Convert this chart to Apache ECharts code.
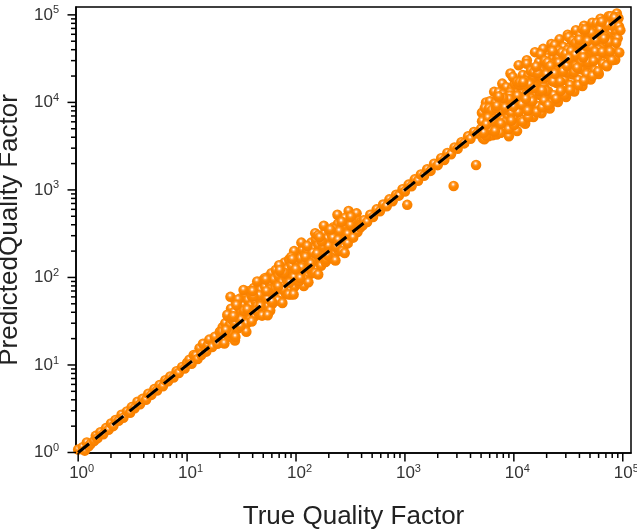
<!DOCTYPE html>
<html><head><meta charset="utf-8">
<script src="https://cdn.jsdelivr.net/npm/echarts@6/dist/echarts.min.js"></script>
<style>html,body{margin:0;padding:0;background:#fff}#c{width:637px;height:529px}</style>
</head><body><div id="c"></div>
<script>
// ---- data: true vs predicted quality factor ----
// low range (1 - 20)
const trueLow = [0.98, 1.0, 1.05, 1.1, 1.15, 1.2, 1.25, 1.3, 1.4, 1.45, 1.5, 1.6, 1.7, 1.8, 1.9, 2.0, 2.1, 2.2, 2.35, 2.5, 2.6, 2.8, 3.0, 3.1, 3.3, 3.5, 3.7, 3.9, 4.2, 4.4, 4.7, 5.0, 5.3, 5.6, 6.0, 6.3, 6.7, 7.0, 7.5, 8.0, 8.4, 9.0, 9.5, 10.0, 10.5, 11, 11.5, 12, 12.5, 13, 13.5, 14, 15, 15.5, 16, 17, 18, 19, 20];
const predLow = [0.97, 1.08, 0.98, 1.15, 1.05, 1.3, 1.18, 1.25, 1.35, 1.55, 1.45, 1.7, 1.62, 1.9, 1.82, 2.15, 2.0, 2.35, 2.3, 2.7, 2.5, 2.95, 2.85, 3.3, 3.2, 3.8, 3.55, 4.1, 4.0, 4.7, 4.55, 5.3, 5.1, 5.9, 5.7, 6.7, 6.5, 7.4, 7.2, 8.5, 8.1, 9.5, 9.1, 10.6, 11.5, 10.3, 13, 12.8, 11.7, 15.5, 13, 17.5, 14.2, 16.8, 19.5, 16, 21, 17.5, 24];
// mid range (20 - 410)
const trueMid = [
  20.5, 21.2, 21.8, 22.4, 23.1, 23.6, 24.2, 24.8, 25.3, 25.9,
  26.4, 27.0, 27.5, 28.1, 28.7, 29.2, 29.8, 30.5, 31.1, 31.6,
  32.2, 32.9, 33.5, 34.1, 34.8, 35.4, 36.1, 36.8, 37.4, 38.0,
  38.7, 39.5, 40.2, 41.0, 41.8, 42.5, 43.3, 44.1, 45.0, 45.8,
  46.6, 47.5, 48.4, 49.3, 50.2, 51.2, 52.1, 53.1, 54.1, 55.1,
  56.2, 57.2, 58.3, 59.4, 60.5, 61.7, 62.8, 64.0, 65.2, 66.4,
  67.7, 69.0, 70.3, 71.6, 73.0, 74.4, 75.8, 77.2, 78.7, 80.2,
  81.7, 83.2, 84.8, 86.4, 88.0, 89.7, 91.4, 93.1, 94.9, 96.7,
  98.5, 100.4, 102.3, 104.2, 106.2, 108.2, 110.3, 112.4, 114.5, 116.7,
  118.9, 121.2, 123.5, 125.8, 128.2, 130.6, 133.1, 135.6, 138.2, 140.8,
  143.5, 146.2, 149.0, 151.8, 154.7, 157.6, 160.6, 163.6, 166.7, 169.9,
  173.1, 176.4, 179.7, 183.1, 186.6, 190.1, 193.7, 197.4, 201.1, 204.9,
  208.8, 212.8, 216.8, 220.9, 225.1, 229.4, 233.7, 238.2, 242.7, 247.3,
  252.0, 256.8, 261.6, 266.6, 271.6, 276.8, 282.0, 287.4, 292.8, 298.4,
  304.0, 309.8, 315.7, 321.6, 327.7, 333.9, 340.3, 346.7, 353.3, 360.0,
  366.8, 373.8, 380.9, 388.1, 395.5, 403.0, 410.6, 25.0, 33.0, 27.5,
  44, 58, 70, 96, 112, 150, 118, 90, 180, 240,
  20.8, 22.0, 23.4, 24.5, 26.1, 27.8, 29.5, 31.3, 33.2, 35.1,
  37.1, 39.2, 41.4, 43.7, 46.2, 48.8, 51.6, 54.6, 57.8, 61.1,
  64.6, 68.3, 72.2, 76.4, 80.8, 85.4, 90.3, 95.5, 101, 107,
  113, 119.5, 126.5, 134, 142, 150, 159, 168, 178, 188,
  199, 211, 223, 236, 250, 265, 281, 298, 316, 335,
  35, 55, 75, 95, 130, 160, 230, 280,
  22.7, 26.7, 30.9, 35.8, 40.6, 47.1, 53.6, 60.1, 68.6, 77.9,
  87.2, 99.4, 109.3, 122.4, 136.9, 155.6, 172, 195, 218, 244,
  28.4, 39.9, 52.7, 71, 92.5, 127, 165, 207, 262, 318
];
const predMid = [
  22, 27, 19, 30, 25, 36, 21, 29, 44, 33,
  24, 40, 30, 52, 35, 26, 46, 33, 58, 40,
  28, 49, 37, 63, 30, 44, 55, 39, 70, 33,
  48, 60, 42, 76, 36, 53, 66, 47, 85, 38,
  57, 72, 50, 92, 43, 62, 78, 55, 100, 47,
  68, 86, 60, 112, 50, 74, 95, 66, 122, 55,
  80, 104, 72, 135, 60, 88, 114, 79, 148, 66,
  96, 125, 87, 160, 72, 105, 136, 95, 175, 78,
  114, 150, 104, 190, 86, 125, 165, 114, 208, 94,
  136, 180, 124, 228, 102, 150, 196, 136, 250, 112,
  164, 214, 150, 270, 124, 180, 234, 164, 295, 136,
  196, 255, 180, 320, 150, 215, 280, 196, 345, 165,
  236, 305, 216, 375, 180, 258, 330, 236, 410, 200,
  282, 355, 258, 440, 220, 305, 385, 282, 470, 245,
  575, 335, 410, 310, 480, 300, 365, 425, 340, 540,
  330, 395, 440, 372, 430, 410, 395, 60, 72, 19,
  90, 42, 138, 200, 250, 320, 80, 64, 390, 520,
  23.9, 17.6, 37.4, 23.3, 35.2, 20.9, 56, 32.9, 41.5, 29.8,
  42.7, 31.4, 66.2, 41.5, 62.4, 36.6, 98, 57.3, 72.3, 51.9,
  74.3, 54.6, 115.5, 72.6, 109, 64, 171.6, 100.3, 126, 91,
  130, 95.6, 202, 127, 192, 112.5, 302, 176.4, 222.5, 160,
  229, 169, 357, 224, 337.5, 199, 477, 313, 395, 285,
  24, 37, 51, 64, 88, 108, 156, 190,
  25, 36, 27.8, 43, 60.9, 47.1, 69.7, 52.9, 78.9, 113,
  87.2, 124, 98.4, 171, 144, 187, 258, 179, 283, 268,
  48.3, 69.8, 94.9, 120.7, 161.9, 228.6, 288.8, 351.9, 432, 493
];
// upper-mid range (420 - 4600)
const trueHi = [420, 450, 480, 510, 550, 590, 630, 680, 720, 770, 830, 880, 950, 1000, 1050, 1080, 1150, 1230, 1320, 1400, 1500, 1600, 1720, 1850, 2000, 2150, 2300, 2450, 2650, 2800, 2850, 3050, 3300, 3500, 3800, 4000, 4300, 4500, 4600];
const predHi = [450, 430, 520, 490, 600, 570, 680, 650, 780, 740, 880, 860, 1020, 960, 675, 1150, 1100, 1320, 1270, 1500, 1450, 1720, 1650, 1990, 1920, 2300, 2200, 2650, 2550, 1110, 3050, 2950, 3500, 3400, 4100, 3850, 4600, 1930, 4400];
// top range (5000 - 95000)
const trueTop = [
  5000, 5090, 5180, 5270, 5360, 5450, 5550, 5640, 5740, 5840,
  5940, 6040, 6150, 6250, 6360, 6470, 6590, 6700, 6820, 6940,
  7060, 7180, 7310, 7440, 7570, 7700, 7830, 7970, 8110, 8250,
  8390, 8540, 8690, 8840, 9000, 9150, 9310, 9470, 9640, 9810,
  9980, 10150, 10330, 10510, 10700, 10880, 11070, 11270, 11460, 11660,
  11860, 12070, 12280, 12490, 12710, 12930, 13160, 13390, 13620, 13860,
  14100, 14350, 14600, 14850, 15110, 15370, 15640, 15910, 16190, 16470,
  16760, 17050, 17350, 17650, 17960, 18270, 18590, 18910, 19240, 19580,
  19920, 20270, 20620, 20980, 21350, 21720, 22100, 22480, 22870, 23270,
  23680, 24090, 24510, 24940, 25370, 25820, 26270, 26720, 27190, 27660,
  28150, 28640, 29130, 29640, 30160, 30690, 31220, 31770, 32320, 32890,
  33460, 34050, 34640, 35240, 35860, 36490, 37120, 37770, 38430, 39100,
  39790, 40480, 41190, 41910, 42640, 43380, 44140, 44910, 45700, 46500,
  47310, 48140, 48980, 49830, 50700, 51590, 52490, 53410, 54340, 55290,
  56260, 57240, 58240, 59260, 60290, 61340, 62410, 63500, 64610, 65740,
  66890, 68060, 69250, 70460, 71690, 72940, 74210, 75510, 76830, 78170,
  79540, 80930, 82340, 83780, 85240, 86730, 88240, 89780, 91350, 92940,
  6300, 7900, 10900, 13500, 17200, 22000, 27000, 34000, 43500, 55000,
  9300, 12800, 15200, 20500, 25500, 31000, 38000, 48000, 58000, 70000,
  8800, 11200, 14500, 18800, 24000, 30500, 37000, 46000, 60000, 75000,
  5100, 5250, 5410, 5570, 5740, 5910, 6090, 6270, 6460, 6650,
  6850, 7060, 7270, 7490, 7710, 7940, 8180, 8430, 8680, 8940,
  9210, 9480, 9770, 10060, 10360, 10670, 10990, 11320, 11660, 12010,
  12370, 12740, 13130, 13520, 13930, 14340, 14770, 15220, 15670, 16140,
  16630, 17130, 17640, 18170, 18710, 19280, 19850, 20450, 21060, 21690,
  22340, 23010, 23700, 24420, 25150, 25900, 26680, 27480, 28300, 29150,
  30030, 30930, 31850, 32810, 33790, 34810, 35850, 36930, 38030, 39170,
  40350, 41560, 42810, 44090, 45410, 46780, 48180, 49630, 51110, 52650,
  54230, 55850, 57530, 59250, 61030, 62860, 64750, 66690, 68690, 70750,
  72870, 75060, 77310, 79630, 82020, 84480, 87020, 89630, 92320, 95090,
  5300, 5800, 6400, 7000, 7600, 8300, 9100, 9900, 10800, 11800,
  12900, 14000, 15300, 16700, 18200, 19900, 21700, 23700, 25800, 28200,
  30700, 33500, 36600, 39900, 43500, 47500, 51800, 56500, 61700, 67300,
  5600, 6700, 8000, 9500, 11300, 13400, 16000, 19000, 22600, 26900,
  32000, 38100, 45300, 53900, 64100, 76200, 84000, 7300, 12200, 20700
];
const predTop = [
  5000, 7600, 3900, 6300, 3800, 4900, 10000, 4500, 7700, 4100,
  6500, 10300, 4300, 8100, 4200, 6100, 13200, 5700, 9900, 4300,
  7100, 11500, 5000, 9300, 4500, 6900, 16400, 6400, 11400, 4800,
  9200, 14900, 6300, 11500, 4100, 8700, 21400, 8000, 14500, 5900,
  10000, 16200, 6700, 12600, 4700, 9800, 26600, 8800, 16000, 6400,
  12500, 20500, 8600, 16200, 5700, 12300, 30300, 11000, 20400, 8000,
  14100, 23000, 9600, 18600, 6800, 13800, 37500, 12400, 22700, 9100,
  18400, 29000, 12100, 22900, 7500, 17400, 40900, 15100, 28900, 11700,
  19900, 32400, 13400, 25200, 8500, 19500, 46400, 17500, 32000, 12100,
  24900, 37300, 16700, 31200, 10100, 23800, 52500, 21400, 36700, 13800,
  28200, 43000, 18100, 35600, 11500, 27600, 59300, 23800, 42000, 15800,
  35100, 51100, 20800, 42300, 13300, 32100, 66800, 27200, 50000, 18000,
  39800, 58700, 23900, 48200, 15400, 36900, 75000, 31400, 57100, 20900,
  47300, 67400, 26900, 55800, 18300, 42300, 81400, 36300, 65200, 23200,
  53400, 74400, 32000, 65200, 21100, 49100, 90500, 41300, 74300, 27600,
  63500, 85100, 36000, 74000, 25800, 56900, 96500, 46800, 84500, 31300,
  75600, 93100, 41200, 88000, 30700, 65000, 104000, 53900, 91400, 37200,
  7000, 8800, 12000, 15500, 20000, 26000, 31000, 38500, 49000, 61000,
  13000, 17500, 19500, 27500, 33000, 39500, 46500, 56000, 68000, 80000,
  7000, 8500, 11000, 14000, 17500, 22000, 26000, 32000, 40000, 50000,
  6100, 4460, 8660, 4180, 6030, 8570, 4870, 8150, 6140, 4660,
  8560, 5650, 13100, 4490, 8100, 12300, 5890, 11400, 8250, 4920,
  12000, 7580, 19500, 5530, 10900, 17100, 7690, 15800, 11100, 6000,
  16100, 10200, 27600, 6760, 14600, 22900, 10300, 22100, 14900, 7750,
  20800, 13400, 35300, 8720, 18700, 29900, 13500, 28600, 19400, 9760,
  26800, 17300, 45000, 11000, 25200, 38900, 17300, 37100, 25500, 12200,
  36000, 22300, 55700, 13800, 33800, 50500, 22200, 48000, 33500, 15700,
  46400, 29100, 68500, 17600, 44500, 63200, 28900, 62000, 43400, 20000,
  59700, 38000, 80500, 22500, 58000, 78600, 37600, 76700, 56300, 26200,
  76500, 48800, 96600, 30300, 75500, 94600, 47900, 94100, 73900, 66600,
  4500, 6670, 6080, 9100, 5700, 8720, 10900, 8910, 11900, 9440,
  10960, 16100, 14500, 21700, 13650, 20900, 26000, 21300, 28400, 22600,
  26100, 38500, 34800, 51900, 32600, 49900, 62200, 50900, 67900, 53800,
  5600, 4690, 11200, 6180, 16950, 8040, 25600, 10450, 38400, 13450,
  32000, 24800, 67950, 29600, 83300, 38100, 92400, 11700, 17100, 9300
];
// identity line
const diagX = [1, 100000];
const diagY = [1, 100000];
// ticks
const majorTicks = [1, 10, 100, 1000, 10000, 100000];
const minorTicks = [2,3,4,5,6,7,8,9,20,30,40,50,60,70,80,90,200,300,400,500,600,700,800,900,2000,3000,4000,5000,6000,7000,8000,9000,20000,30000,40000,50000,60000,70000,80000,90000];

const pts = [];
[[trueLow, predLow], [trueMid, predMid], [trueHi, predHi], [trueTop, predTop]].forEach(([xs, ys]) => {
  xs.forEach((x, i) => pts.push([x, ys[i]]));
});

const FONT = 'Arial, "Liberation Sans", sans-serif';
const X_MIN = 0.955, X_MAX = 119000, Y_MIN = 0.987, Y_MAX = 123000;
function fmt(v) { const e = Math.round(Math.log10(v)); return '{b|10}{e|' + e + '}'; }
const richX = { b: { fontSize: 17, fontFamily: FONT, color: '#333', padding: [0, 0, 0, 7] }, e: { fontSize: 11, fontFamily: FONT, color: '#333', padding: [0, 0, 9, 0] } };
const richY = { b: { fontSize: 17, fontFamily: FONT, color: '#333' }, e: { fontSize: 11, fontFamily: FONT, color: '#333', padding: [0, 0, 9, 0] } };

const chart = echarts.init(document.getElementById('c'), null, { renderer: 'canvas' });
chart.setOption({
  animation: false,
  backgroundColor: '#fff',
  grid: { left: 76, top: 7, width: 555, height: 446, show: true, borderColor: '#000', borderWidth: 1.5, backgroundColor: 'transparent', containLabel: false, outerBoundsMode: 'none' },
  xAxis: { type: 'log', logBase: 10, min: X_MIN, max: X_MAX, position: 'bottom',
    name: 'True Quality Factor', nameLocation: 'middle', nameGap: 51,
    nameTextStyle: { fontSize: 26, fontFamily: FONT, color: '#222' },
    axisLine: { show: true, onZero: false, lineStyle: { color: '#000', width: 1.5 } },
    axisTick: { show: false },
    axisLabel: { show: true, margin: 10, customValues: majorTicks, formatter: fmt, rich: richX },
    splitLine: { show: false }, minorTick: { show: false } },
  yAxis: { type: 'log', logBase: 10, min: Y_MIN, max: Y_MAX, position: 'left',
    name: 'PredictedQuality Factor', nameLocation: 'middle', nameGap: 41,
    nameTextStyle: { fontSize: 26, fontFamily: FONT, color: '#222' },
    axisLine: { show: true, onZero: false, lineStyle: { color: '#000', width: 1.5 } },
    axisTick: { show: false },
    axisLabel: { show: true, margin: 17, customValues: majorTicks, formatter: fmt, rich: richY },
    splitLine: { show: false }, minorTick: { show: false } },
  series: [
    { type: 'scatter', data: pts, symbolSize: 10.5, z: 2, large: false,
      itemStyle: { opacity: 1, color: { type: 'radial', x: 0.45, y: 0.35, r: 0.58, colorStops: [
        { offset: 0, color: '#ffffff' }, { offset: 0.1, color: '#ffe6cc' }, { offset: 0.28, color: '#ffa040' }, { offset: 0.5, color: '#ff8800' }, { offset: 1, color: '#f88000' } ] } } },
    { type: 'line', data: diagX.map((x, i) => [x, diagY[i]]), symbol: 'none', z: 5,
      lineStyle: { color: '#000', width: 3, type: [14, 8] } }
  ]
});

// axis ticks (major + minor), positioned through the chart's own log scales
const tickEls = [];
function addTick(v, len, axis) {
  const p = axis === 'x'
    ? chart.convertToPixel({ gridIndex: 0 }, [v, Y_MIN])
    : chart.convertToPixel({ gridIndex: 0 }, [X_MIN, v]);
  if (!p || !isFinite(p[0]) || !isFinite(p[1])) return;
  const shape = axis === 'x'
    ? { x1: p[0], y1: p[1], x2: p[0], y2: p[1] + len }
    : { x1: p[0] - len, y1: p[1], x2: p[0], y2: p[1] };
  tickEls.push({ type: 'line', shape: shape, silent: true, z: 100, style: { stroke: '#000', lineWidth: 1.5 } });
}
majorTicks.forEach(v => { addTick(v, 8.5, 'x'); addTick(v, 8.5, 'y'); });
minorTicks.forEach(v => { addTick(v, 5, 'x'); addTick(v, 5, 'y'); });
chart.setOption({ graphic: { elements: tickEls } });
</script></body></html>
